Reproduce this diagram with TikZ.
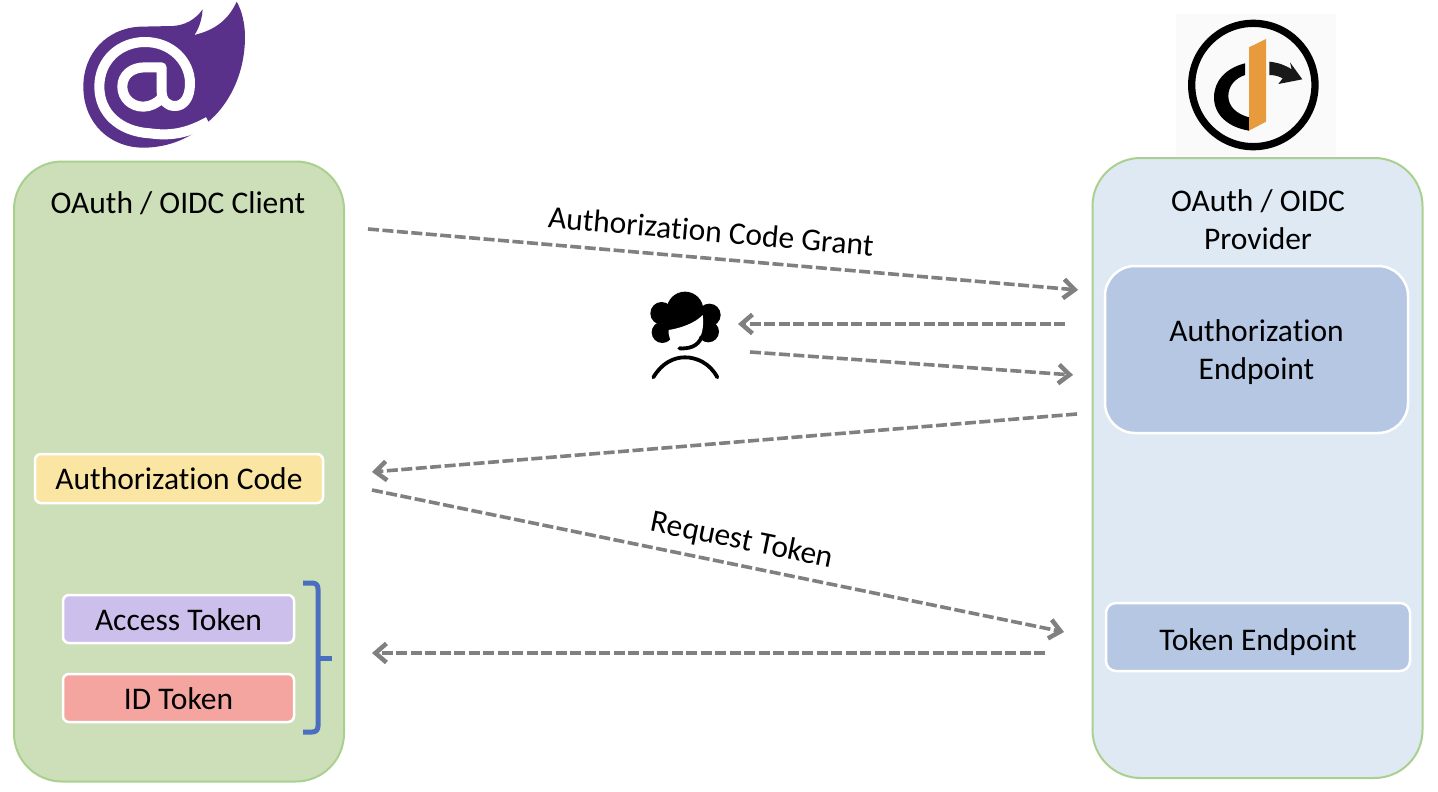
\documentclass[tikz,border=0pt]{standalone}
\usepackage{fontspec}
\setmainfont[Ligatures=NoCommon]{Carlito}
\usetikzlibrary{arrows.meta}
\definecolor{clientgreen}{HTML}{CCDFB8}
\definecolor{framegreen}{HTML}{A9D08E}
\definecolor{providerblue}{HTML}{DFE9F4}
\definecolor{endpointblue}{HTML}{B5C7E3}
\definecolor{codeyellow}{HTML}{FBE5A2}
\definecolor{accesspurple}{HTML}{CDBFEC}
\definecolor{idred}{HTML}{F4A5A0}
\definecolor{bracketblue}{HTML}{4A6FBF}
\definecolor{blazorpurple}{HTML}{5A318A}
\definecolor{openidorange}{HTML}{E89B3C}
\definecolor{flowgray}{HTML}{808080}
\tikzset{
    panel/.style={draw=framegreen, line width=2pt, rounded corners=48pt, minimum width=330pt, minimum height=620pt, inner sep=0pt},
    tokenbox/.style={draw=white, line width=2.5pt, rounded corners=6pt, inner sep=0pt, font=\fontsize{31.5}{38}\selectfont},
    oneline/.style={text height=#1, text depth=0pt},
    label/.style={font=\fontsize{31.5}{38}\selectfont, align=center, inner sep=0pt},
    flow/.style={draw=flowgray, line width=3.6pt, dash pattern=on 11pt off 3.5pt, -{Straight Barb[length=11pt,width=19pt,line width=4.5pt]}}
}
\begin{document}
\begin{tikzpicture}[x=1pt,y=-1pt]
    \useasboundingbox (0,0) rectangle (1438,792);

    % panels
    \node[panel, fill=clientgreen] (client) at (179,471.5) {};
    \node[panel, fill=providerblue] (provider) at (1257.5,468) {};
    \node[label] (clientTitle) at (178,203) {OAuth / OIDC Client};
    \node[label] (providerTitle) at (1258,220) {OAuth / OIDC\\Provider};

    % boxes
    \node[tokenbox, fill=endpointblue, rounded corners=30pt, minimum width=303pt, minimum height=167pt, align=center] (authEndpoint) at (1256.5,349.5) {\rule{0pt}{27pt}Authorization\\Endpoint};
    \node[tokenbox, oneline=26pt, fill=endpointblue, rounded corners=10pt, minimum width=304pt, minimum height=68pt] (tokenEndpoint) at (1258,637) {Token Endpoint};
    \node[tokenbox, oneline=22pt, fill=codeyellow, minimum width=288pt, minimum height=49pt] (authCode) at (179,478.5) {Authorization Code};
    \node[tokenbox, oneline=22pt, fill=accesspurple, minimum width=231pt, minimum height=48pt] (accessToken) at (178.5,619) {Access Token};
    \node[tokenbox, oneline=22pt, fill=idred, minimum width=231pt, minimum height=48pt] (idToken) at (178.5,698) {ID Token};

    % free ends
    \coordinate (grantStart) at (368,229);
    \coordinate (grantEnd) at (1078,290);
    \coordinate (loginStart) at (1065,324);
    \coordinate (loginEnd) at (738,324);
    \coordinate (consentStart) at (750,352);
    \coordinate (consentEnd) at (1073,375);
    \coordinate (codeStart) at (1077,414);
    \coordinate (codeEnd) at (372,472);
    \coordinate (requestStart) at (372,490);
    \coordinate (requestEnd) at (1064,632);
    \coordinate (tokenStart) at (1045,653);
    \coordinate (tokenEnd) at (372,653);

    \draw[flow] (grantStart) -- (grantEnd);
    \draw[flow] (loginStart) -- (loginEnd);
    \draw[flow] (consentStart) -- (consentEnd);
    \draw[flow] (codeStart) -- (codeEnd);
    \draw[flow] (requestStart) -- (requestEnd);
    \draw[flow] (tokenStart) -- (tokenEnd);

    \node[label, rotate=-5] (grantLabel) at (711,231) {Authorization Code Grant};
    \node[label, rotate=-11.5] (requestLabel) at (742,541) {Request Token};

    % bracket
    \draw[bracketblue, line width=5pt, line join=round] (303,583) -- (312,583) .. controls (316,583) and (318,585) .. (318,589) -- (318,726) .. controls (318,730) and (316,732) .. (312,732) -- (303,732);
    \draw[bracketblue, line width=5pt] (318,658) -- (332,658);

    % blazor logo
    \begin{scope}[xshift=60pt, scale=1/3]
        \fill[blazorpurple] (428,28) .. controls (405,60) and (375,75) .. (340,78) -- (240,80)
            .. controls (140,85) and (70,160) .. (70,260)
            .. controls (70,370) and (150,443) .. (250,443)
            .. controls (330,443) and (400,410) .. (445,365)
            .. controls (500,320) and (555,230) .. (555,110)
            .. controls (555,70) and (545,30) .. (530,5)
            .. controls (505,60) and (465,90) .. (403,105)
            .. controls (418,85) and (426,55) .. (428,28) -- cycle;
        \draw[white, line width=10pt, line join=round] (445,365)
            .. controls (390,395) and (340,410) .. (270,400)
            .. controls (180,395) and (118,340) .. (118,260)
            .. controls (118,180) and (180,126) .. (255,126)
            .. controls (335,126) and (390,185) .. (390,250)
            .. controls (390,295) and (370,318) .. (345,318)
            .. controls (320,318) and (305,300) .. (305,275)
            -- (305,202) -- (255,202)
            .. controls (215,202) and (187,225) .. (187,260)
            .. controls (187,295) and (215,320) .. (250,320)
            .. controls (270,320) and (290,310) .. (305,295);
    \end{scope}

    % openid logo
    \fill[black!2] (1176,14) rectangle (1336,157);
    \begin{scope}[xshift=1170pt, yshift=-10pt, scale=1/3]
        \draw[black, line width=7.3pt] (250,225) circle (185);
        \fill[black] (225,160) .. controls (165,175) and (132,215) .. (132,262)
            .. controls (132,315) and (175,352) .. (237,362) -- (237,322)
            .. controls (200,312) and (175,290) .. (175,258)
            .. controls (175,228) and (195,205) .. (225,195) -- cycle;
        \fill[openidorange] (237,112) -- (288,87) -- (288,335) -- (237,362) -- cycle;
        \fill[black!90] (298,155) .. controls (325,158) and (345,165) .. (365,178) -- (360,157) -- (397,208) -- (325,222) -- (338,205)
            .. controls (325,198) and (312,195) .. (298,195) -- cycle;
    \end{scope}

    % user icon
    \begin{scope}[xshift=630pt, yshift=-280pt, scale=1/3]
        \fill[black] (165,90) circle (55);
        \fill[black] (95,100) circle (34);
        \fill[black] (97,157) circle (32);
        \fill[black] (238,105) circle (34);
        \fill[black] (235,155) circle (32);
        \fill[black] (110,90) rectangle (225,160);
        \fill[white] (116,150) .. controls (150,145) and (195,130) .. (218,105)
            .. controls (222,135) and (218,165) .. (200,190)
            -- (130,195)
            .. controls (118,175) and (115,165) .. (116,150) -- cycle;
        \draw[black, line width=3.8pt, line cap=round] (148,205) .. controls (175,207) and (205,200) .. (215,170);
        \draw[black, line width=3.8pt, line cap=round] (70,292) .. controls (95,250) and (130,232) .. (165,232) .. controls (200,232) and (240,250) .. (262,292);
    \end{scope}
\end{tikzpicture}
\end{document}
